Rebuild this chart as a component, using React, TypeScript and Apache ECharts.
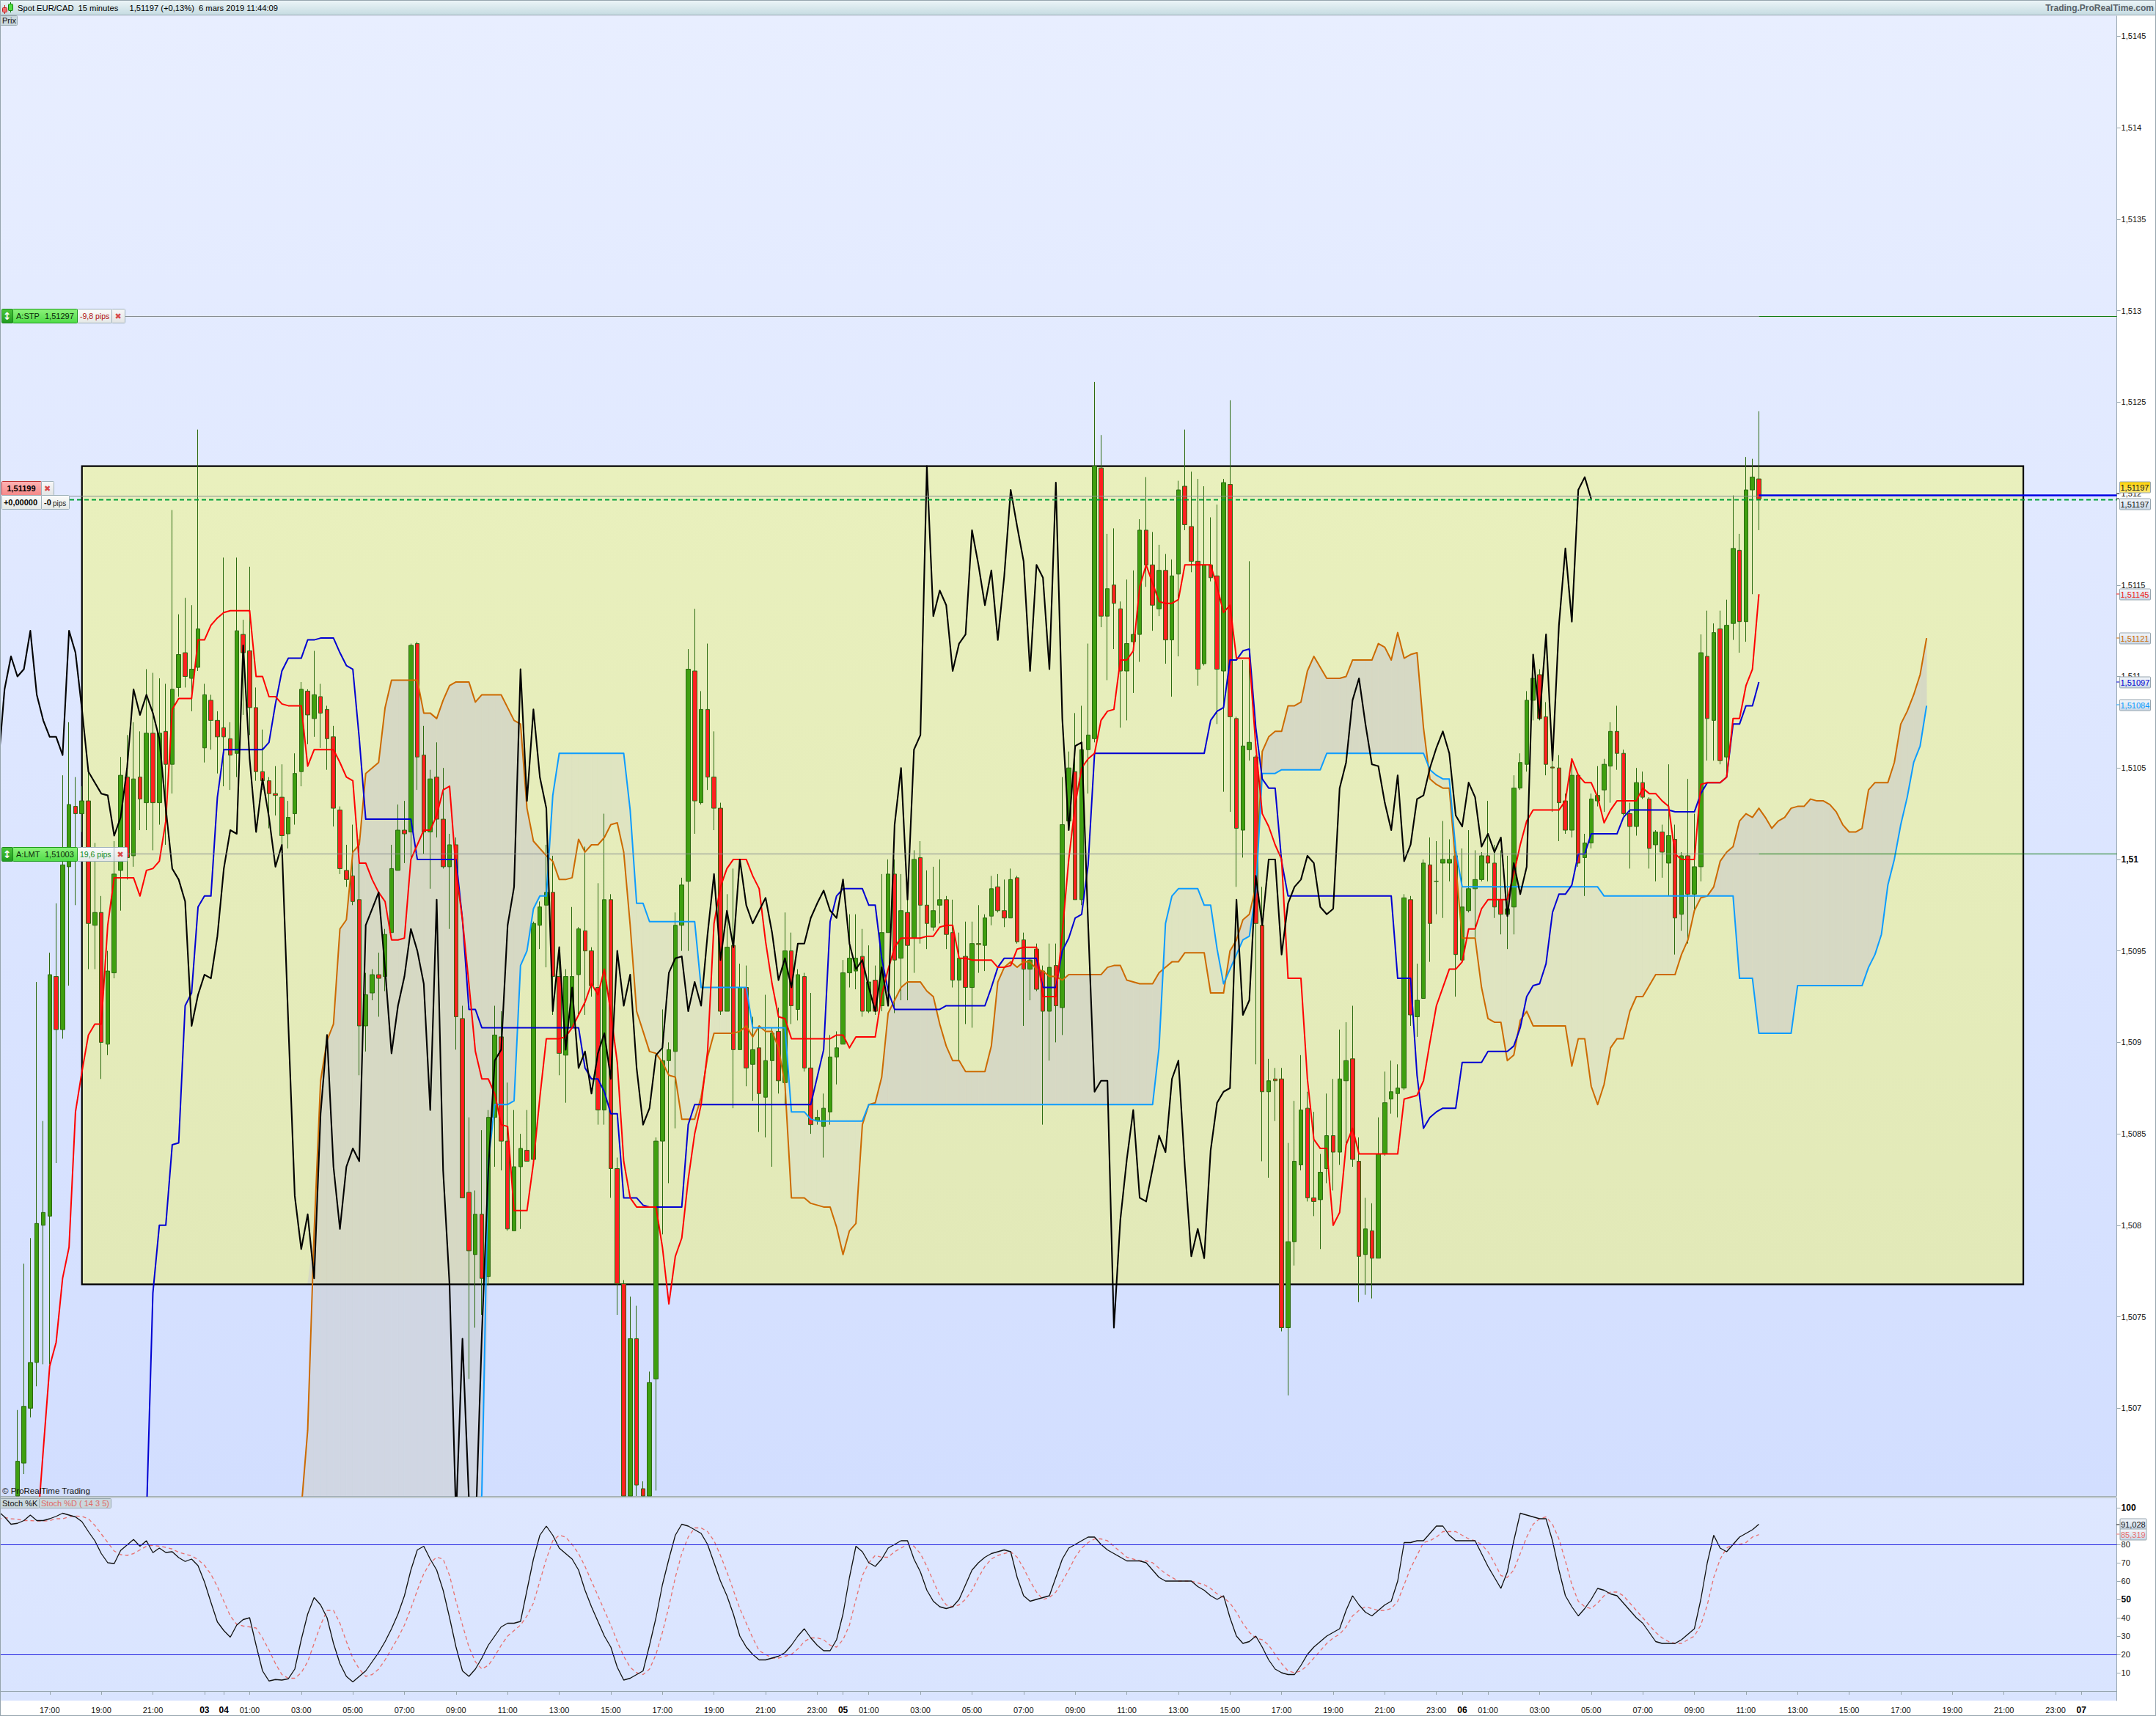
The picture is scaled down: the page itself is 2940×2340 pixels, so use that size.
import React, { useEffect, useRef } from "react";
import * as echarts from "echarts";

// All price series are stored in points (1e-5) above this base price.
const BASE = 1.51;
const FONT = '"Liberation Sans", Arial, sans-serif';

const priceTicks = [1.507, 1.5075, 1.508, 1.5085, 1.509, 1.5095, 1.51, 1.5105, 1.511, 1.5115, 1.512, 1.5125, 1.513, 1.5135, 1.514, 1.5145];
const stochTicks = [10, 20, 30, 40, 50, 60, 70, 80, 100];

const axisMarks: [number, string][] = [
  [7, "17:00"], [15, "19:00"], [23, "21:00"], [31, "03"], [34, "04"], [38, "01:00"], [46, "03:00"], [54, "05:00"], [62, "07:00"], [70, "09:00"], [78, "11:00"], [86, "13:00"], [94, "15:00"], [102, "17:00"], [110, "19:00"], [118, "21:00"], [126, "23:00"],
  [130, "05"], [134, "01:00"], [142, "03:00"], [150, "05:00"], [158, "07:00"], [166, "09:00"], [174, "11:00"], [182, "13:00"], [190, "15:00"], [198, "17:00"], [206, "19:00"], [214, "21:00"], [222, "23:00"],
  [226, "06"], [230, "01:00"], [238, "03:00"], [246, "05:00"], [254, "07:00"], [262, "09:00"], [270, "11:00"], [278, "13:00"], [286, "15:00"], [294, "17:00"], [302, "19:00"], [310, "21:00"], [318, "23:00"], [322, "07"],
];
// One extra bar sits just off the left edge, so that the lines run out of the picture.
const LEAD = 1;
const BAND_COUNT = 328 + LEAD;

// open, close, low, high
const candleRows: number[][] = [
  [-420,-400,-425,-395],[-410,-385,-415,-370],[-370,-329,-380,-301],[-330,-299,-336,-221],[-300,-275,-305,-207],[-275,-199,-288,-67],[-200,-193,-276,-143],[-195,-63,-276,-51],[-64,-93,-166,-24],[-93,-3,-98,46],
  [-4,30,-69,75],[29,25,-25,45],[25,32,15,40],[32,-35,-60,49],[-36,-29,-60,9],[-29,-100,-120,-20],[-101,-61,-107,-50],[-62,-8,-65,10],[-6,46,-28,56],[45,1,-11,68],
  [2,44,-4,75],[45,33,16,70],[31,69,16,104],[69,31,5,102],[31,69,19,99],[70,52,8,96],[52,93,36,191],[94,112,89,134],[113,100,94,143],[99,104,81,139],
  [105,126,103,235],[61,90,53,96],[87,76,60,90],[76,67,47,81],[72,67,40,165],[66,57,38,75],[58,125,45,165],[123,113,79,131],[114,83,68,160],[83,48,43,94],
  [48,43,38,71],[43,36,17,45],[36,35,24,51],[34,13,8,52],[14,23,6,32],[25,47,19,58],[48,93,40,97],[92,79,63,93],[77,90,67,114],[89,80,61,96],
  [82,66,49,84],[67,28,18,73],[27,-5,-8,29],[-6,-11,-15,8],[-9,-23,-25,19],[-22,-91,-118,11],[-91,-74,-105,-62],[-73,-63,-77,-60],[-63,-65,-86,-51],[-64,-41,-72,-38],
  [-40,-5,-40,8],[-6,16,-6,30],[16,14,-2,32],[15,117,-2,118],[118,56,38,119],[57,15,3,73],[15,44,-16,49],[45,22,12,64],[22,-4,-5,50],[-4,8,-38,14],
  [8,-86,-104,12],[-87,-185,-185,-80],[-182,-214,-284,-141],[-216,-194,-256,-181],[-194,-229,-249,-148],[-228,-141,-233,-137],[-141,-96,-168,-80],[-97,-154,-170,-83],[-154,-202,-203,-122],[-203,-168,-203,-137],
  [-168,-158,-202,-150],[-159,-165,-165,-137],[-164,-35,-165,-34],[-36,-26,-49,-23],[-25,-18,-59,8],[-18,-64,-85,2],[-64,-106,-118,-48],[-107,-64,-133,-60],[-92,-64,-92,-26],[-63,-38,-85,-37],
  [-39,-50,-85,7],[-50,-69,-75,-48],[-70,-137,-145,-13],[-137,-22,-145,25],[-22,-169,-185,-19],[-169,-232,-249,-163],[-232,-370,-380,-230],[-370,-262,-380,-239],[-262,-342,-360,-244],[-344,-360,-370,-340],
  [-370,-286,-380,-280],[-284,-154,-345,-152],[-154,-110,-205,-82],[-110,-104,-177,-100],[-105,-36,-147,-29],[-36,-14,-50,-10],[-12,104,-50,115],[103,32,14,137],[31,82,30,92],[82,45,38,118],
  [45,28,16,70],[28,-83,-85,31],[-83,-48,-83,-19],[-47,-104,-136,-5],[-104,-70,-104,-57],[-70,-114,-124,-58],[-112,-104,-132,-86],[-103,-128,-149,-91],[-130,-110,-152,-74],[-110,-95,-168,-92],
  [-94,-121,-128,-81],[-122,-50,-134,-29],[-50,-80,-90,-40],[-82,-63,-88,-60],[-64,-114,-116,-62],[-114,-145,-150,-73],[-143,-141,-145,-137],[-146,-136,-163,-128],[-138,-108,-145,-96],[-108,-103,-123,-94],
  [-101,-62,-101,-55],[-62,-54,-70,-30],[-61,-54,-71,-30],[-53,-83,-86,-38],[-83,-67,-84,-47],[-66,-83,-85,-58],[-80,-40,-83,-8],[-40,-8,-40,0],[-8,-55,-84,0],[-54,-28,-77,-8],
  [-29,-47,-77,-20],[-43,0,-62,5],[1,-25,-46,10],[-25,-35,-49,-6],[-37,-28,-39,-4],[-25,-22,-35,0],[-22,-41,-49,-20],[-40,-66,-70,-22],[-66,-54,-110,-40],[-53,-70,-90,-34],
  [-70,-46,-92,-34],[-46,-46.5,-62,-25],[-47,-32,-61,-30],[-31,-16,-36,-9],[-15,-28,-29,-8],[-28,-32,-37,-11],[-32,-11,-32,-5],[-10,-45,-46,-9],[-44,-60,-91,-40],[-60,-55,-77,-54],
  [-49,-71,-72,-46],[-61,-83,-145,-58],[-83,-59,-110,-46],[-58,-80,-100,-46],[-81,19,-96,45],[21,50,16,59],[48,-22,-22,80],[-22,60,-25,84],[60,68,36,118],[66,215,64,261],
  [214,133,127,232],[133,148,98,178],[150,140,115,181],[137,103,72,141],[103,118,76,153],[119,123,91,158],[123,180,108,186],[180,161,149,209],[161,139,125,179],[137,158,133,172],
  [158,120,107,167],[120,155,89,164],[156,202,111,207],[204,183,180,235],[182,163,157,212],[163,104,95,208],[107,161,106,204],[161,154,152,187],[155,104,74,194],[103,206,37,208],
  [205,78,26,251],[77,17,-15,78],[16,62,1,109],[60,64,54,163],[56,-35,-112,57],[-36,-127,-165,-15],[-127,-121,-174,-109],[-120,-121,-143,-114],[-120,-256,-258,-114],[-256,-209,-293,-155],
  [-209,-165,-222,-132],[-167,-137,-170,-107],[-136,-185,-187,-127],[-185,-187,-195,-138],[-186,-171,-213,-161],[-169,-151,-177,-128],[-151,-160,-181,-120],[-160,-120,-167,-93],[-121,-110,-159,-89],[-109,-164,-168,-80],
  [-165,-217,-242,-152],[-216,-202,-238,-185],[-203,-218,-240,-188],[-218,-161,-218,-141],[-161,-133,-162,-116],[-131,-127,-139,-110],[-128,-125,-141,-112],[-125,-21,-126,-19],[-22,-85,-91,-20],[-86,-77,-97,-57],
  [-76,-2,-76,0],[-3,-35,-56,12],[-12,-12,-30,10],[-2,0,-32,21],[-2,0,-12,11],[2,-52,-75,6],[-55,-26,-56,6],[-28,-16,-29,16],[-16,-11,-43,5],[-11,2,-12,4],
  [2,-2,-12,32],[-2,-26,-32,8],[-22,-30,-41,5],[-30,-27,-49,2],[-26,39,-41,46],[39,53,38,58],[52,87,48,92],[87,99,76,104],[101,77,76,104],[78,52,46,86],
  [50.5,50,26,56],[50,31,10,57],[32,16,14,36],[16,46,12,55],[46,-2,-4,47],[1,9,-20,14],[9,33,6,36],[32,35,29,51],[38,52,26,55],[51,70,31,75],
  [70,58,49,84],[58,25,24,60],[25,18,-5,31],[18,42,13,50],[42,34,33,48],[33,6,-5,34],[8,15,-12,16],[15,4,-10,19],[-2,13,-20,52],[11,-32,-52,19],
  [-30,2,-39,4],[2,-19,-46,44],[-19,-4,-29,25],[-4,113,-12,123],[111,77,54,136],[76,124,54,129],[126,54,52,136],[56,128,45,142],[129,170,120,199],[169,130,113,178],
  [130,202,119,220],[202,209,145,219],[208,197,180,245],
];

const tenkan = [
  -400,-400,-400,-400,-400,-370,-323,-277,-264,-229,-212,-138,-116,-96,-90,-90,-36,-10,-10,-10,-10,-20,-6,-5,-1,
  21,82,88,88,88,120,120,128,132,135,136,136,136,136,100,100,89,89,85,84,84,84,
  51,60,60,60,60,53,45,43,-2,-2,-11,-18,-23,-44,-44,-43,0,8,16,16,24,38,40,
  -6,-33,-68,-105,-120,-120,-128,-145,-146,-192,-192,-192,-166,-130,-98,-98,-98,-97,-92,-85,-78,-68,-74,-60,-84,-111,
  -165,-185,-190,-190,-190,-190,-212,-243,-217,-207,-175,-150,-134,-105,-35,-15,-5,0,0,0,-9,-16,-45,-68,-86,-87,
  -98,-98,-98,-98,-98,-98,-98,-96,-96,-103,-97,-97,-97,-97,-74,-60,-48,-43,-43,-43,-43,-42,-42,-37,-36,-36,
  -54,-54,-55,-55,-55,-55,-59,-59,-58,-49,-48,-48,-48,-75,-75,-75,-40,0,30,50,55,
  58,76,81,82,109,109,114,149,161,151,141,140,140,142,161,161,161,161,161,149,135,139,110,110,110,
  62,25,18,8,0,-65,-65,-65,-120,-153,-158,-158,-200,-193,-156,-147,-161,-161,-161,-161,-161,-161,-161,
  -131,-130,-129,-121,-100,-80,-70,-60,-60,-56,-38,-38,-27,-22,-22,-22,-22,-8,
  8,21,27,27,27,27,27,32,55,46,42,42,34,20,27,32,32,32,32,39,36,36,32,29,3,0,0,0,41,42,42,42,45,77,77,95,104,145,
];

const kijun = [
  -400,-400,-400,-400,-400,-400,-400,-400,-400,-400,-400,-400,-400,-400,-400,-400,-400,-400,-400,-400,-400,-400,
  -360,-237,-200,-200,-156,-155,-80,-73,-26,-20,-20,34,60,60,60,60,60,60,60,64,85,103,110,110,110,120,120,121,121,121,113,106,104,66,22,
  22,22,22,22,22,22,22,0,0,0,0,0,0,0,-33,-82,-82,
  -92,-92,-92,-92,-92,-92,-92,-92,-92,-92,-92,-92,-92,-92,-92,-92,-114,-120,-120,-127,-139,-139,-185,-185,-185,-189,-190,-190,-190,-190,-190,-190,-145,
  -134,-134,-134,-134,-134,-134,-134,-134,-134,-134,-134,-134,-134,-134,-134,-134,-134,-134,-134,-119,-104,-34,-20,-16,-16,-16,-16,-25,-25,-54,-72,
  -82,-82,-82,-82,-82,-82,-82,-82,-80,-80,-80,-80,-80,-80,-80,-70,-59,-54,-54,-54,-54,-54,-54,-70,-70,-70,-50,-43,-32,-30,-3,
  58,58,58,58,58,58,58,58,58,58,58,58,58,58,58,58,58,58,76,81,83,109,109,114,115,72,44,39,39,-1,-20,
  -20,-20,-20,-20,-20,-20,-20,-20,-20,-20,-20,-20,-20,-20,-20,-20,-65,-65,-65,-118,-147,-141,-138,-136,-136,-136,
  -111,-111,-111,-111,-105,-105,-105,-105,-102,-92,-75,-69,-68,-57,-29,-19,-19,-14,3,3,14,14,14,14,14,23,27,27,27,27,27,27,27,26,26,26,26,36,42,42,42,45,74,74,84,84,97,
];

const cloudStart = 46;
const senkouA = [
  -355,-312,-204,-121,-99,-90,-38,-33,4,8,47,50,53,83,98,98,98,98,98,80,80,77,87,95,97,97,97,86,90,90,90,90,83,76,74,
  28,10,6,2,-1,-11,-11,-10,11,4,8,8,12,19,20,4,-36,-83,-94,-105,-106,
  -111,-118,-119,-142,-142,-142,-130,-108,-95,-95,-95,-95,-94,-91,-97,-91,-94,-94,-103,-123,
  -185,-185,-185,-188,-189,-190,-190,-201,-216,-203,-199,-145,-134,-133,-119,-84,-77,-70,-67,-67,-67,-72,-75,-90,-102,-110,-110,-116,-116,-116,-116,
  -102,-67,-59,-56,-59,-56,-56,-60,-61,-64,-64,-66,-63,-63,-63,-63,-63,-63,-59,-58,-58,-66,-67,-68,-68,-68,-62,-59,-56,-56,-51,-51,-51,-51,
  -73,-73,-73,-50,-44,-33,-30,-15,59,67,70,70,84,84,86,103,111,105,99,99,99,100,109,109,109,109,118,116,109,
  124,110,112,113,72,44,41,39,39,-3,-43,-43,-43,-70,-87,-89,-89,-110,-107,-88,-83,-91,-91,-91,-91,-91,-91,
  -113,-98,-98,-124,-134,-123,-103,-98,-98,-83,-75,-75,-69,-63,-63,-63,-63,
  -52,-44,-28,-21,-20,-15,-1,4,7,21,25,23,28,23,17,21,23,28,29,29,33,32,32,30,26,19,15,15,17,38,42,42,42,53,74,81,90,101,121,
];
const senkouB = [
  -400,-400,-400,-400,-400,-400,-400,-400,-400,-400,-400,-400,-400,-400,-400,-400,-400,-400,-400,-400,-400,-400,-400,-400,-400,-400,-400,-400,
  -347,-166,-134,-134,-134,-132,-58,-50,-27,-20,-20,35,58,58,58,58,58,58,58,58,58,58,58,27,-24,-24,
  -34,-34,-34,-34,-34,-34,-34,-34,-70,-70,-70,-70,-70,-70,-70,-70,-92,-92,-92,-92,-92,-92,-138,-138,-138,-142,-143,
  -143,-143,-143,-143,-143,-143,-143,
  -134,-134,-134,-134,-134,-134,-134,-134,-134,-134,-134,-134,-134,-134,-134,-134,-134,-134,-134,-134,-134,-134,-134,-134,-134,
  -134,-134,-134,-134,-134,-134,-134,-134,-134,-134,-134,-134,-134,-134,-134,-134,-134,-134,-134,-134,
  -103,-35,-20,-16,-16,-16,-16,-25,-25,-49,-68,-60,-52,-44,-42,-18,47,47,47,49,49,49,49,49,49,49,
  58,58,58,58,58,58,58,58,58,58,58,58,58,58,58,58,49,46,44,44,5,
  -15,-15,-15,-15,-15,-15,-15,-15,-15,-15,-15,-15,-15,-15,-15,-15,-15,-15,-15,-15,-15,-15,
  -20,-20,-20,-20,-20,-20,-20,-20,-20,-20,-20,-20,-20,-20,-20,-20,-20,-20,-20,-20,-20,
  -65,-65,-65,-95,-95,-95,-95,-95,-95,-69,-69,-69,-69,-69,-69,-69,-69,-69,-69,-69,-59,-52,-41,-14,0,19,34,53,62,84,
];

const chikouLead = 50;
const chikou = [
  93,111,100,104,125,90,76,67,67,57,125,113,82,48,42,36,35,13,23,50,
  93,79,90,80,66,28,-5,-11,-23,-91,-74,-63,-65,-42,-5,16,14,117,55,15,
  44,23,-4,8,-90,-184,-213,-194,-229,-139,-96,-168,-202,-168,-158,-165,-36,-27,-18,-60,
  -106,-80,-64,-38,-50,-68,-137,-22,-170,-233,-360,-262,-350,-370,-260,-170,-110,-104,-36,-15,
  104,32,82,45,28,-83,-48,-104,-70,-114,-105,-128,-106,-95,-120,-50,-80,-63,-114,-145,
  -136,-107,-103,-62,-54,-53,-83,-67,-80,-41,-8,-55,-28,-48,0,-25,-35,-28,-21,-40,
  -66,-54,-70,-46,-46,-32,-24,-17,-28,-32,-11,-46,-60,-55,-70,-83,-59,-80,19,50,
  -22,60,68,215,133,147,139,103,118,123,180,161,139,158,120,155,202,182,163,103,
  161,154,104,206,77,16,62,64,-35,-127,-121,-121,-256,-197,-164,-137,-185,-187,-169,-151,
  -160,-120,-110,-168,-217,-202,-218,-159,-133,-127,-125,-22,-85,-77,-9,-36,0,0,-52,-24,
  -15,-11,2,-2,-26,-30,-27,39,53,87,99,74,52,51,31,16,46,-1,8,33,
  35,50,61,70,58,24,18,42,34,7,14,4,12,-31,-2,-19,-4,112,77,123,54,128,170,130,202,209,197,
];

const stochKLead = 98;
const stochK = [
  95,91,91.5,93,96,93,93,94,95.3,97,96,95,92.4,87,82,75,70,69.5,76.7,79.7,82.7,79,82,75.5,78,75.6,76,72.8,70.7,72,68.4,59.5,48.4,37.7,33,29.4,36,39,40,25,11,5.5,6.3,6,6.7,
  12,28,42,51,47,40,26,15,8,5,8,11,16,21,27,34,42,52,66,77,79,72,66,55,40,24,11,8,12,18,25,30,35,37,37,38,55,72,85,90,85,78,75,72,66,55,46,38,30,24,13,6,7,9,11,
  25,40,58,72,85,91,90,88,86,80,70,60,52,42,30,24,20,17,17,18,19,21,25,30,34,29,25,22,22,28,42,62,79,76,70,68,72,78,80,82,82,72,65,55,49,46,45,46,50,58,
  66,70,73,75,76,77,76,62,52,49,50,51,52,62,72,78,80,82,84,84,80,77,75,73,71,71,71,70,66,62,60,60,60,60,60,57,55,52,50,52,40,30,26,27,30,24,17,12,10,9,
  9,14,20,24,27,30,32,34,44,52,47,43,41,44,47,49,60,81,81,82,82,86,90,90,85,82,82,82,82,75,68,62,56,65,82,97,96,95,94,94,82,66,52,46,41,45,50,56,55,53,
  52,48,44,40,37,32,27,26,26,26,28,31,34,50,70,85,78,76,80,84,86,88,91.03,
];
const stochDLead = 93.5;
const stochD = [
  94.7,94,93.7,93,93,92.8,92.7,93,94,94,95,95.5,95.3,94,90.4,85.7,81,76.4,74.4,74,75,77,79,79.5,79,78.4,77.5,75.7,74.7,73.7,71.7,68.6,63.7,57,49,41,36.4,35.5,35,34.4,29,22.4,15,9,7,
  7,10,16,26,36,44,44,37,27,18,12,8,9,12,17,23,29,36,45,55,64,70,73,72,63,49,36,24,16,12,14,19,25,30,33,36,41,48,60,72,82,85,84,80,75,68,60,52,44,36,27,19,13,10,9,
  12,20,32,46,62,75,84,89,89,87,82,74,65,55,45,37,29,22,20,18,18,19,20,23,27,29,29,28,25,24,28,36,50,63,70,74,73,73,76,78,80,79,75,68,60,52,47,46,47,50,
  55,62,68,72,74,75,76,73,67,60,54,50,51,54,60,66,73,78,81,83,83,82,79,76,73,72,71,71,70,67,64,62,60,60,60,59,58,56,53,51,48,43,37,32,29,28,25,20,15,11,
  10,11,14,18,22,26,29,31,35,41,44,46,45,44,44,45,49,58,67,74,81,82,84,87,87,87,85,83,82,80,76,70,63,62,66,75,84,91,94,95,91,83,71,58,49,46,45,48,52,54,
  54,52,48,44,40,36,32,29,27,26,26,28,30,36,47,62,72,78,80,80,81,84,85.319,
];

const levelRows: number[][] = [[297, 171], [3, 174], [199, 95], [197, 95]];
const LAST_BAR = 272 + LEAD;
const RECT_LEFT = 12 + LEAD;
const RECT_RIGHT = 313 + LEAD;
const RECT_TOP = 215;
const RECT_BOTTOM = -232.3;
const PANEL_MIN = 1.50652;
const PANEL_MAX = 1.51461;

const px = (v: number) => BASE + v / 100000;
const LIGHT = "#96A5AE";
const F11 = `11px ${FONT}`;

function text(t: string, x: number, y: number, fill: string, font: string, align = "left"): any {
  return { type: "text", z: 30, x, y, silent: true, style: { text: t, fill, font, textAlign: align, textVerticalAlign: "middle" } };
}
function box(x: number, y: number, w: number, h: number, fill: any, stroke = LIGHT, z = 29): any {
  return { type: "rect", z, silent: true, shape: { x: x + 0.5, y: y + 0.5, width: w, height: h, r: 1 }, style: { fill, stroke, lineWidth: 1 } };
}
const vGrad = (a: string, b: string) => new echarts.graphic.LinearGradient(0, 0, 0, 1, [{ offset: 0, color: a }, { offset: 1, color: b }]);

function orderTag(y: number, kind: string, price: string, pips: string, pipColor: string, w2: number): any[] {
  const h = 19;
  const green = vGrad("#8CF27A", "#4FDC48");
  return [
    box(105, y, w2, h, vGrad("#FBFCFB", "#E4E8E6"), "#9DB0BA"),
    box(105 + w2, y, 18, h, vGrad("#F8F8F8", "#E2E4E4"), "#9DB0BA"),
    text("✖", 105 + w2 + 9, y + 10, "#D84848", `11px "DejaVu Sans"`, "center"),
    box(17, y, 88, h, green, "#1B9A1B"),
    box(2, y, 15, h, vGrad("#4CC83C", "#209A20"), "#1B8A1B"),
    text("↕", 9.5, y + 10, "#FFFFFF", `bold 14px "DejaVu Sans"`, "center"),
    text(kind, 22, y + 10, "#0A2A0A", F11),
    text(price, 61, y + 10, "#0A2A0A", F11),
    text(pips, 109, y + 10, pipColor, `10.5px ${FONT}`),
  ];
}

function valueTag(y: number, label: string, color: string, x0: number, w: number, tickY: number, bg?: any): any[] {
  return [
    { type: "line", z: 28, silent: true, shape: { x1: 2886, y1: tickY, x2: x0, y2: tickY }, style: { stroke: color, lineWidth: 1 } },
    box(x0, y - 7.5, w, 15, bg || vGrad("#F4F7FB", "#C9D7E6")),
    text(label, x0 + 1.5, y + 0.5, color, F11),
  ];
}

export default function App() {
  const ref = useRef<HTMLDivElement>(null);
  useEffect(() => {
    document.body.style.margin = "0";
    document.body.style.background = "#fff";
    const chart = echarts.init(ref.current!, undefined, { renderer: "svg" });

    const cats: string[] = new Array(BAND_COUNT).fill("");
    axisMarks.forEach(([i, s]) => (cats[i + LEAD] = s));

    const nulls = new Array(cloudStart + LEAD).fill(null);
    const ssa = [...nulls, ...senkouA];
    const ssb = [...nulls, ...senkouB];
    const toPrice = (a: (number | null)[]) => a.map((v) => (v === null ? null : px(v)));

    const cloudRows: number[][] = [];
    for (let k = 0; k < senkouA.length - 1; k++) {
      cloudRows.push([k + cloudStart + LEAD, senkouA[k], senkouB[k], senkouA[k + 1], senkouB[k + 1]]);
    }

    const cloudSeries = (inside: boolean) => ({
      type: "custom",
      xAxisIndex: 0,
      yAxisIndex: 0,
      z: 2,
      silent: true,
      clip: true,
      data: cloudRows,
      encode: { x: 0, y: 1 },
      renderItem: (_: any, api: any) => {
        const i = api.value(0);
        const lim = (v: number) => (inside ? Math.max(v, RECT_BOTTOM) : Math.min(v, RECT_BOTTOM));
        const a = api.value(1), b = api.value(2), a2 = api.value(3), b2 = api.value(4);
        const pts = [
          api.coord([i, px(lim(a))]),
          api.coord([i + 1, px(lim(a2))]),
          api.coord([i + 1, px(lim(b2))]),
          api.coord([i, px(lim(b))]),
        ];
        const fill = !inside ? "#D0D6E3" : a + a2 >= b + b2 ? "#D6D9C4" : "#DFE4C1";
        return { type: "polygon", shape: { points: pts }, style: { fill, stroke: fill, lineWidth: 0.6 } };
      },
    });

    const rectSeries = (filled: boolean, z: number) => ({
      type: "custom",
      xAxisIndex: 0,
      yAxisIndex: 0,
      z,
      silent: true,
      data: [[RECT_LEFT, RECT_TOP, RECT_RIGHT, RECT_BOTTOM]],
      encode: { x: 0, y: 1 },
      renderItem: (_: any, api: any) => {
        const p0 = api.coord([api.value(0), px(api.value(1))]);
        const p1 = api.coord([api.value(2), px(api.value(3))]);
        return {
          type: "rect",
          shape: { x: p0[0], y: p0[1], width: p1[0] - p0[0], height: p1[1] - p0[1] },
          style: filled
            ? { fill: vGrad("#E9F0BD", "#E2E9B8"), stroke: "none" }
            : { fill: "none", stroke: "#000", lineWidth: 2.2 },
        };
      },
    });

    const line = (name: string, data: any[], color: string, z: number, width = 2) => ({
      name,
      type: "line",
      xAxisIndex: 0,
      yAxisIndex: 0,
      data,
      z,
      symbol: "none",
      silent: true,
      clip: true,
      connectNulls: false,
      lineStyle: { color, width, join: "round" },
    });

    const axisText = { color: "#111", fontFamily: FONT, fontSize: 11 };

    // Candles that leave the price panel are cut at its lower edge.
    const minPoints = (PANEL_MIN - BASE) * 100000;
    const candleData = [
      ["-", "-", "-", "-"],
      ...candleRows.map((r) => (r[3] < minPoints ? ["-", "-", "-", "-"] : r.map((v) => px(Math.max(v, minPoints))))),
    ];

    const option: any = {
      animation: false,
      backgroundColor: "#fff",
      grid: [
        { left: -6.995, top: 22, width: 2893.595, height: 2018, containLabel: false, outerBoundsMode: "none" },
        { left: -6.995, top: 2042.5, width: 2893.595, height: 276.5, containLabel: false, outerBoundsMode: "none" },
      ],
      xAxis: [
        { type: "category", gridIndex: 0, data: cats, boundaryGap: true, axisLine: { show: false }, axisTick: { show: false }, axisLabel: { show: false }, splitLine: { show: false } },
        {
          type: "category",
          gridIndex: 1,
          data: cats,
          boundaryGap: true,
          axisLine: { show: true, lineStyle: { color: LIGHT, width: 1 } },
          axisTick: { show: true, alignWithLabel: true, length: 5, lineStyle: { color: LIGHT }, interval: (_: number, v: string) => v !== "" },
          axisLabel: {
            show: true,
            interval: (_: number, v: string) => v !== "",
            margin: 7,
            hideOverlap: false,
            ...axisText,
            formatter: (v: string) => (v.length === 2 ? `{d|${v}}` : v),
            rich: { d: { fontFamily: FONT, fontSize: 12, fontWeight: "bold", color: "#000" } },
          },
          splitLine: { show: false },
        },
      ],
      yAxis: [
        {
          type: "value",
          gridIndex: 0,
          position: "right",
          min: PANEL_MIN,
          max: PANEL_MAX,
          axisLine: { show: true, lineStyle: { color: LIGHT, width: 1 } },
          axisTick: { show: true, length: 5, lineStyle: { color: LIGHT }, customValues: priceTicks },
          splitLine: { show: false },
          axisLabel: {
            show: true,
            margin: 6,
            customValues: priceTicks,
            ...axisText,
            formatter: (v: number) => {
              const s = v.toFixed(4).replace(/0+$/, "").replace(".", ",");
              return s === "1,51" ? `{b|${s}}` : s;
            },
            rich: { b: { fontFamily: FONT, fontSize: 12, fontWeight: "bold", color: "#000" } },
          },
        },
        {
          type: "value",
          gridIndex: 1,
          position: "right",
          min: -5.2,
          max: 105.4,
          axisLine: { show: true, lineStyle: { color: LIGHT, width: 1 } },
          axisTick: { show: true, length: 5, lineStyle: { color: LIGHT }, customValues: stochTicks },
          splitLine: { show: false },
          axisLabel: {
            show: true,
            margin: 6,
            customValues: stochTicks,
            ...axisText,
            formatter: (v: number) => (v === 100 ? `{h|100}` : v === 50 ? `{b|50}` : `${v}`),
            rich: {
              h: { fontFamily: FONT, fontSize: 12, fontWeight: "bold", color: "#000" },
              b: { fontFamily: FONT, fontSize: 12, fontWeight: "bold", color: "#000" },
            },
          },
        },
      ],
      series: [
        rectSeries(true, 1),
        cloudSeries(true),
        cloudSeries(false),
        {
          name: "EUR/CAD",
          type: "candlestick",
          xAxisIndex: 0,
          yAxisIndex: 0,
          z: 3,
          silent: true,
          barWidth: 6,
          clip: true,
          data: candleData,
          itemStyle: { color: "#3F9F10", color0: "#FF2020", borderColor: "#2B6A10", borderColor0: "#2B6A10", borderWidth: 1 },
        },
        rectSeries(false, 3),
        line("Senkou A", toPrice(ssa), "#CC6A00", 4),
        line("Senkou B", toPrice(ssb), "#0C9CFF", 4),
        line("Kijun", toPrice([-400, ...kijun]), "#0000D2", 5),
        line("Tenkan", toPrice([-400, ...tenkan]), "#FF0000", 6),
        line("Chikou", toPrice([chikouLead, ...chikou]), "#000000", 7, 2.1),
        {
          type: "custom",
          xAxisIndex: 0,
          yAxisIndex: 0,
          z: 8,
          silent: true,
          data: levelRows,
          encode: { y: 0 },
          renderItem: (params: any, api: any) => {
            const cs = params.coordSys;
            const idx = params.dataIndex;
            const y = Math.round(api.coord([LAST_BAR, px(api.value(0))])[1]) + 0.5;
            const x0 = api.value(1);
            const xLast = api.coord([LAST_BAR, px(api.value(0))])[0];
            const xEnd = cs.x + cs.width;
            const mk = (a: number, b: number, stroke: string, lineWidth: number, yy: number, dash?: number[]) => ({
              type: "line",
              shape: { x1: a, y1: yy, x2: b, y2: yy },
              style: { stroke, lineWidth, lineDash: dash },
            });
            if (idx === 3) return mk(x0, xEnd, "#00A038", 2, y, [6, 4]);
            const right = idx === 2 ? mk(xLast, xEnd, "#0000E6", 2.5, y - 1) : mk(xLast, xEnd, "#107A10", 1, y);
            return { type: "group", children: [mk(x0, xLast, "#868C90", 1, y), right] };
          },
        },
        {
          name: "Stoch %D",
          type: "line",
          xAxisIndex: 1,
          yAxisIndex: 1,
          data: [stochDLead, ...stochD],
          symbol: "none",
          silent: true,
          z: 3,
          lineStyle: { color: "#E87070", width: 1.3, type: [5, 4] },
          markLine: {
            silent: true,
            symbol: "none",
            label: { show: false },
            lineStyle: { color: "#2222E0", width: 1, type: "solid" },
            data: [{ yAxis: 80 }, { yAxis: 20 }],
          },
        },
        {
          name: "Stoch %K",
          type: "line",
          xAxisIndex: 1,
          yAxisIndex: 1,
          data: [stochKLead, ...stochK],
          symbol: "none",
          silent: true,
          z: 4,
          lineStyle: { color: "#111", width: 1.3 },
        },
      ],
      graphic: {
        elements: [
          { type: "rect", z: -5, silent: true, shape: { x: 1, y: 21, width: 2885, height: 2019 }, style: { fill: vGrad("#E8EEFF", "#D2DEFF") } },
          { type: "rect", z: -5, silent: true, shape: { x: 1, y: 2042, width: 2885, height: 277 }, style: { fill: vGrad("#DEE7FF", "#D9E4FF") } },
          { type: "line", z: -4, silent: true, shape: { x1: 1, y1: 2040.5, x2: 2886, y2: 2040.5 }, style: { stroke: LIGHT, lineWidth: 1 } },
          { type: "line", z: -4, silent: true, shape: { x1: 1, y1: 2042.5, x2: 2886, y2: 2042.5 }, style: { stroke: LIGHT, lineWidth: 1 } },
          { type: "rect", z: 25, silent: true, shape: { x: 0, y: 0, width: 2940, height: 20 }, style: { fill: vGrad("#EDF5F8", "#C6DCE2") } },
          { type: "line", z: 26, silent: true, shape: { x1: 0, y1: 20.5, x2: 2940, y2: 20.5 }, style: { stroke: LIGHT, lineWidth: 1 } },
          { type: "line", z: 26, silent: true, shape: { x1: 0, y1: 0.5, x2: 2940, y2: 0.5 }, style: { stroke: LIGHT, lineWidth: 1 } },
          { type: "line", z: 26, silent: true, shape: { x1: 0.5, y1: 0, x2: 0.5, y2: 2340 }, style: { stroke: LIGHT, lineWidth: 1 } },
          { type: "line", z: 26, silent: true, shape: { x1: 2939.5, y1: 0, x2: 2939.5, y2: 2340 }, style: { stroke: LIGHT, lineWidth: 1 } },
          { type: "line", z: 26, silent: true, shape: { x1: 0, y1: 2339.5, x2: 2940, y2: 2339.5 }, style: { stroke: LIGHT, lineWidth: 1 } },
          // title icon
          { type: "line", z: 27, silent: true, shape: { x1: 6.5, y1: 7, x2: 6.5, y2: 19 }, style: { stroke: "#C02020", lineWidth: 1 } },
          box(3, 10, 6, 6, "#F07070", "#C02020", 28),
          { type: "line", z: 27, silent: true, shape: { x1: 14.5, y1: 3, x2: 14.5, y2: 17 }, style: { stroke: "#107A10", lineWidth: 1 } },
          box(11, 5, 6, 9, "#50E040", "#107A10", 28),
          text("Spot EUR/CAD", 24, 10.5, "#000", `11.2px ${FONT}`),
          text("15 minutes", 106.5, 10.5, "#000", `11.2px ${FONT}`),
          text("1,51197 (+0,13%)", 176.5, 10.5, "#000", `11.2px ${FONT}`),
          text("6 mars 2019 11:44:09", 271, 10.5, "#000", `11.2px ${FONT}`),
          text("Trading.ProRealTime.com", 2937, 10.5, "#5A6268", `bold 12px ${FONT}`, "right"),
          box(0, 21, 23, 13, "#C9D7DD", "#9AAAB2"),
          text("Prix", 3, 28, "#111", F11),
          // Order tags
          ...orderTag(421, "A:STP", "1,51297", "-9,8 pips", "#B01010", 47),
          ...orderTag(1155, "A:LMT", "1,51003", "19,6 pips", "#108A20", 50),
          // Position tag
          box(2, 656, 54, 19, vGrad("#FFB4B4", "#F48888"), "#C03030"),
          box(56, 656, 17, 19, vGrad("#F8F8F8", "#E2E4E4"), "#9DB0BA"),
          box(2, 675, 54, 19, vGrad("#FBFCFB", "#E4E8E6"), "#9DB0BA"),
          box(56, 675, 38, 19, vGrad("#FBFCFB", "#E4E8E6"), "#9DB0BA"),
          text("1,51199", 29, 666, "#000", `bold 11px ${FONT}`, "center"),
          text("✖", 64.5, 666, "#D84848", `11px "DejaVu Sans"`, "center"),
          text("+0,00000", 28, 685, "#000", `bold 11px ${FONT}`, "center"),
          text("-0", 60, 685, "#000", `bold 11px ${FONT}`),
          text("pips", 72, 686, "#222", `10px ${FONT}`),
          // Right side value tags
          ...valueTag(664, "1,51197", "#111", 2890, 42, 673, vGrad("#FFD200", "#FFE87A")),
          ...valueTag(687, "1,51197", "#111", 2890, 42, 680),
          ...valueTag(810, "1,51145", "#F01818", 2890, 42, 810),
          ...valueTag(870, "1,51121", "#CC6A00", 2890, 42, 870),
          ...valueTag(930, "1,51097", "#0000D2", 2890, 42, 930),
          ...valueTag(961, "1,51084", "#0C9CFF", 2890, 42, 961),
          ...valueTag(2078, "91,028", "#111", 2890.5, 36, 2079),
          ...valueTag(2092, "85,319", "#E87070", 2890.5, 36, 2092),
          // Watermark and stochastic legend
          text("© ProRealTime Trading", 3, 2033, "#111", `11.5px ${FONT}`),
          box(0, 2043, 53, 13, "#C9D7DD", "#9AAAB2"),
          box(53, 2043, 98, 13, "#C9D7DD", "#9AAAB2"),
          text("Stoch %K", 3, 2050, "#111", F11),
          text("Stoch %D ( 14 3 5)", 56, 2050, "#E06868", F11),
        ],
      },
    };
    chart.setOption(option);
    return () => chart.dispose();
  }, []);
  return <div ref={ref} style={{ position: "absolute", left: 0, top: 0, width: 2940, height: 2340 }} />;
}
